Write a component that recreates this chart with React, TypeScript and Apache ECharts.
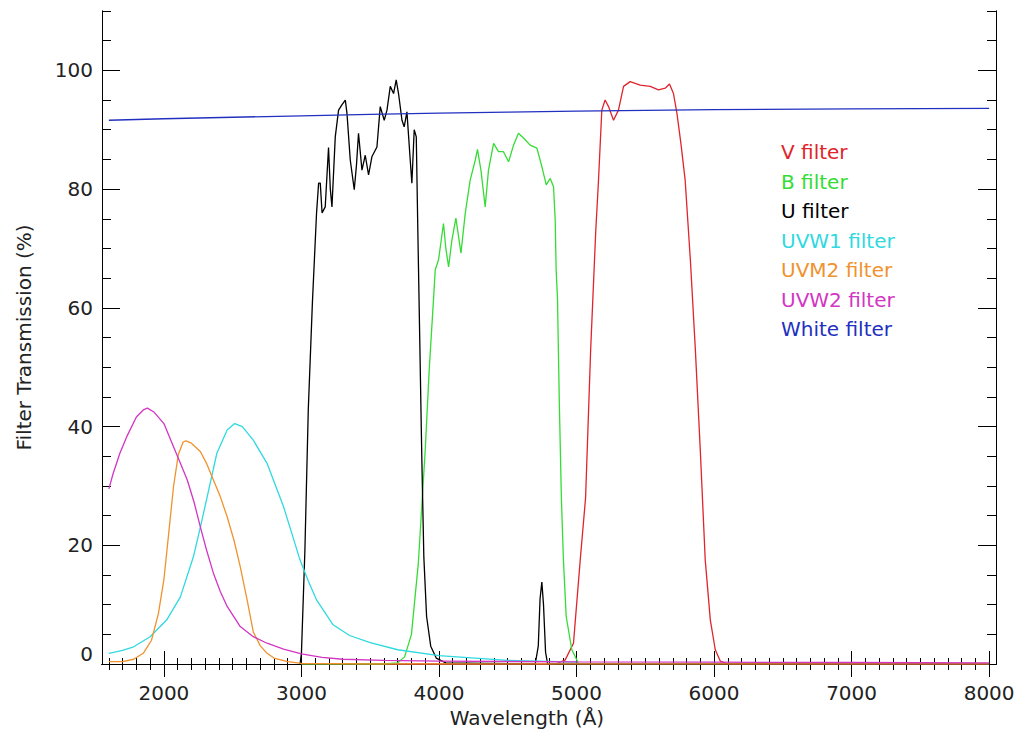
import React, { useEffect, useRef } from "react";
import * as echarts from "echarts";

// ---- Data (wavelength Å, transmission %) ----
const vFilter: number[][] = [
  [3000, 0], [4850, 0], [4918, 0.7], [4978, 3.5], [5027, 17.5], [5066, 28], [5103, 53], [5140, 73],
  [5160, 81.5], [5184, 93.3], [5208, 95], [5233, 93.9], [5269, 91.6], [5305, 93.3], [5342, 97.3],
  [5390, 98.1], [5463, 97.5], [5536, 97.3], [5596, 96.7], [5645, 97], [5676, 97.7], [5705, 96.1],
  [5730, 92.8], [5759, 87.7], [5790, 81.5], [5828, 68], [5864, 53], [5900, 36], [5936, 17.5],
  [5973, 7.4], [6009, 2.4], [6045, 0.5], [6100, 0], [8000, 0],
];

const bFilter: number[][] = [
  [3000, 0], [3600, 0], [3700, 0.2], [3750, 1.2], [3800, 5], [3850, 17], [3900, 36], [3930, 50],
  [3960, 61.3], [3973, 66.4], [3997, 68.1], [4033, 74.2], [4050, 70], [4070, 66.9], [4094, 71.4],
  [4123, 75.1], [4160, 69.2], [4191, 75.9], [4227, 81.5], [4264, 84.9], [4280, 86.7], [4305, 83.2],
  [4336, 77], [4360, 83.2], [4397, 87.7], [4433, 86.3], [4469, 86.3], [4506, 84.6], [4542, 87.4],
  [4578, 89.4], [4615, 88.6], [4663, 87.4], [4712, 86.9], [4748, 83.8], [4780, 80.7], [4809, 81.8],
  [4833, 80.4], [4845, 74.8], [4852, 66.4], [4862, 61.3], [4875, 44], [4890, 28], [4905, 17.5],
  [4925, 8], [4966, 2.4], [5000, 0.8], [5015, 0],
];

const uFilter: number[][] = [
  [2990, 0], [3000, 1.8], [3025, 19], [3050, 43], [3080, 61], [3110, 76], [3125, 81], [3137, 81],
  [3150, 76], [3173, 77], [3197, 87], [3210, 80], [3222, 77], [3246, 88.8], [3270, 93.3],
  [3294, 94.2], [3319, 95], [3331, 92.8], [3355, 84.9], [3384, 79.9], [3400, 84], [3415, 89.4],
  [3440, 83.2], [3464, 85.7], [3488, 82.4], [3513, 85.5], [3549, 87.1], [3573, 93.9], [3602, 91.6],
  [3622, 93.3], [3646, 97.3], [3670, 96.1], [3689, 98.4], [3706, 96.1], [3731, 91.6], [3747, 90.5],
  [3767, 93], [3791, 84.9], [3803, 81], [3820, 90], [3835, 88.8], [3845, 74.8], [3860, 55],
  [3875, 35], [3890, 18], [3910, 8], [3940, 3], [3980, 1], [4050, 0.2], [4700, 0], [4722, 3],
  [4735, 11], [4748, 13.8], [4760, 10], [4775, 2], [4790, 0], [5000, 0], [8000, 0],
];

const uvw1Filter: number[][] = [
  [1600, 1.8], [1700, 2.3], [1780, 2.9], [1900, 4.6], [2020, 7.4], [2120, 11.3], [2215, 18.1],
  [2265, 23], [2315, 28.2], [2385, 35.5], [2460, 39.4], [2515, 40.5], [2570, 40], [2650, 37.7],
  [2750, 33.8], [2870, 26.5], [2930, 22], [2990, 17.5], [3050, 14], [3110, 10.8], [3230, 6.6],
  [3350, 4.8], [3500, 3.6], [3700, 2.4], [4000, 1.4], [4500, 0.6], [5000, 0.3],
];

const uvm2Filter: number[][] = [
  [1600, 0.4], [1700, 0.4], [1780, 0.8], [1850, 1.8], [1910, 4], [1960, 8.5], [2000, 14.2],
  [2035, 22], [2070, 29.9], [2105, 35.3], [2140, 37.4], [2160, 37.6], [2200, 37.2], [2265, 35.8],
  [2310, 33.8], [2360, 31], [2410, 28.2], [2460, 24.8], [2510, 20.8], [2555, 16.4], [2605, 10.8],
  [2650, 5.4], [2700, 3.1], [2750, 1.8], [2800, 1], [2900, 0.4], [3000, 0.1], [3500, 0], [8000, 0],
];

const uvw2Filter: number[][] = [
  [1600, 29.5], [1630, 32], [1680, 35.5], [1730, 38.3], [1800, 41.6], [1850, 42.8], [1880, 43.1],
  [1930, 42.4], [2000, 40.5], [2070, 36.6], [2120, 33.8], [2170, 31], [2220, 27.2], [2265, 23.1],
  [2310, 19.2], [2360, 15.3], [2410, 12.2], [2460, 9.7], [2555, 6.3], [2650, 4.6], [2750, 3.5],
  [2870, 2.5], [3000, 1.7], [3150, 1.1], [3300, 0.8], [3600, 0.6], [4000, 0.5], [5000, 0.35],
  [6000, 0.3], [7000, 0.25], [8000, 0.2],
];

const whiteFilter: number[][] = [
  [1600, 91.6], [2000, 91.85], [2500, 92.1], [3000, 92.35], [3500, 92.6], [4000, 92.8],
  [4500, 92.95], [5000, 93.15], [6000, 93.4], [7000, 93.5], [8000, 93.6],
];

const seriesNames = ["V filter", "B filter", "U filter", "UVW1 filter", "UVM2 filter", "UVW2 filter", "White filter"];
const seriesColors = ["#e0242c", "#35dc35", "#000000", "#2fd9df", "#f0922e", "#d236c2", "#2230c0"];
const seriesData = [vFilter, bFilter, uFilter, uvw1Filter, uvm2Filter, uvw2Filter, whiteFilter];

// ---- Axis ranges and ticks ----
const xMin = 1550;
const xMax = 8050;
const yMin = 0;
const yMax = 110;
const xLabelValues = [2000, 3000, 4000, 5000, 6000, 7000, 8000];
const yLabelValues = [0, 20, 40, 60, 80, 100];
const xMinorTicks: number[] = [];
for (let v = 1600; v <= 8000; v += 100) xMinorTicks.push(v);
const yMinorTicks: number[] = [];
for (let v = 0; v <= 110; v += 5) yMinorTicks.push(v);

const FONT = "DejaVu Sans";
const TXT = "#222";

export default function App() {
  const ref = useRef<HTMLDivElement>(null);
  useEffect(() => {
    if (!ref.current) return;
    const chart = echarts.init(ref.current, null, { renderer: "svg" });
    const gridRect = { left: 102, right: 28, top: 11, bottom: 74, outerBoundsMode: "none" };
    const line = { show: true, lineStyle: { color: "#000", width: 1 } };
    const baseX = (gridIndex: number, position: string, ticks: number[], len: number) => ({
      type: "value",
      gridIndex,
      position,
      min: xMin,
      max: xMax,
      axisLine: line,
      splitLine: { show: false },
      axisTick: { show: true, inside: true, length: len, customValues: ticks, lineStyle: { color: "#000", width: 1 } },
      axisLabel: { show: false },
    });
    const baseY = (gridIndex: number, position: string, ticks: number[], len: number) => ({
      type: "value",
      gridIndex,
      position,
      min: yMin,
      max: yMax,
      axisLine: line,
      splitLine: { show: false },
      axisTick: { show: true, inside: true, length: len, customValues: ticks, lineStyle: { color: "#000", width: 1 } },
      axisLabel: { show: false },
    });

    const xBottom: any = baseX(0, "bottom", xMinorTicks, 6);
    xBottom.axisLabel = {
      show: true,
      customValues: xLabelValues,
      formatter: (v: number) => String(v),
      margin: 19,
      fontFamily: FONT,
      fontSize: 20,
      color: TXT,
    };
    xBottom.name = "Wavelength (Å)";
    xBottom.nameLocation = "middle";
    xBottom.nameGap = 44;
    xBottom.nameTextStyle = { fontFamily: FONT, fontSize: 20, color: TXT, padding: [0, 44, 0, 0] };

    const yLeft: any = baseY(0, "left", yMinorTicks, 9);
    yLeft.axisLabel = {
      show: true,
      customValues: yLabelValues,
      formatter: (v: number) => String(v),
      margin: 9,
      fontFamily: FONT,
      fontSize: 20,
      color: TXT,
      verticalAlignMinLabel: "bottom",
    };
    yLeft.name = "Filter Transmission (%)";
    yLeft.nameLocation = "middle";
    yLeft.nameGap = 68;
    yLeft.nameTextStyle = { fontFamily: FONT, fontSize: 20, color: TXT };

    chart.setOption({
      animation: false,
      backgroundColor: "#ffffff",
      grid: [gridRect, { ...gridRect }],
      xAxis: [
        xBottom,
        baseX(0, "top", xMinorTicks, 6),
        baseX(1, "bottom", xLabelValues, 13),
        baseX(1, "top", xLabelValues, 13),
      ],
      yAxis: [
        yLeft,
        baseY(0, "right", yMinorTicks, 9),
        baseY(1, "left", yLabelValues, 18),
        baseY(1, "right", yLabelValues, 18),
      ],
      legend: {
        orient: "vertical",
        left: 771,
        top: 137,
        icon: "none",
        itemWidth: 0,
        itemHeight: 14,
        itemGap: 9.5,
        selectedMode: false,
        textStyle: { fontFamily: FONT, fontSize: 20, lineHeight: 20 },
        data: seriesNames.map((n, i) => ({ name: n, textStyle: { color: seriesColors[i] } })),
      },
      series: seriesNames.map((n, i) => ({
        name: n,
        type: "line",
        xAxisIndex: 0,
        yAxisIndex: 0,
        data: seriesData[i],
        showSymbol: false,
        symbol: "none",
        color: seriesColors[i],
        lineStyle: { color: seriesColors[i], width: 1.3 },
        silent: true,
      })),
    });
    return () => chart.dispose();
  }, []);
  return <div ref={ref} style={{ position: "absolute", left: 0, top: 0, width: 1024, height: 738 }} />;
}
